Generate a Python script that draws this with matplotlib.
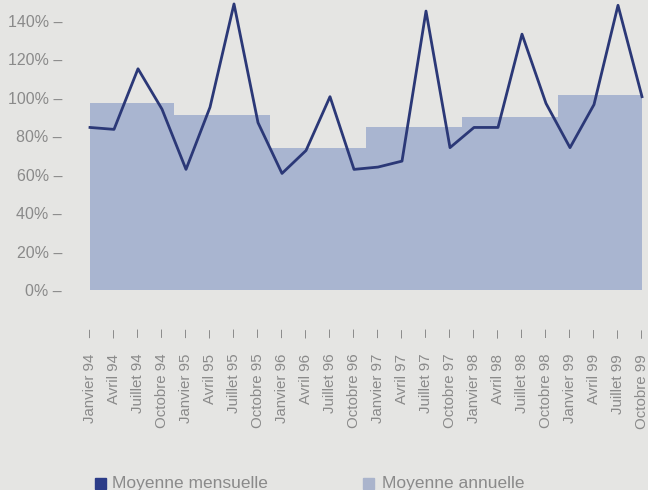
import numpy as np
import matplotlib.pyplot as plt
from matplotlib.patches import Rectangle

plt.rcParams['font.family'] = ['Liberation Sans', 'DejaVu Sans']

# Quarterly labels and values (%)
labels = ['Janvier 94', 'Avril 94', 'Juillet 94', 'Octobre 94',
          'Janvier 95', 'Avril 95', 'Juillet 95', 'Octobre 95',
          'Janvier 96', 'Avril 96', 'Juillet 96', 'Octobre 96',
          'Janvier 97', 'Avril 97', 'Juillet 97', 'Octobre 97',
          'Janvier 98', 'Avril 98', 'Juillet 98', 'Octobre 98',
          'Janvier 99', 'Avril 99', 'Juillet 99', 'Octobre 99']
mensuelle = [84.5, 83.5, 115, 94, 62.7, 95, 148.7, 87,
             60.6, 72.5, 100.5, 62.7, 63.9, 67, 145, 74,
             84.5, 84.5, 133, 97, 74, 96.4, 148, 100.5]
annees = ['94', '95', '96', '97', '98', '99']
annuelle = [97.4, 91, 73.6, 84.5, 90, 101.5]

bg = '#e5e5e3'
fill_col = '#a9b5d0'
line_col = '#2b3877'
text_col = '#8a8a8a'

fig = plt.figure(figsize=(6.48, 4.90), dpi=100, facecolor=bg)
ax = fig.add_axes([90 / 648, 1 - 290 / 490, 552 / 648, 290 / 490 - 0.001])
ax.set_facecolor(bg)

x = np.arange(len(labels))

# yearly steps: each year covers its 4 quarters, edges halfway between quarters
edges = [0, 3.5, 7.5, 11.5, 15.5, 19.5, 23]
sx, sy = [], []
for i, v in enumerate(annuelle):
    sx += [edges[i], edges[i + 1]]
    sy += [v, v]
ax.fill_between(sx, 0, sy, color=fill_col, linewidth=0, clip_on=False)

ax.plot(x, mensuelle, color=line_col, linewidth=2, clip_on=False)

ax.set_xlim(0, 23)
ax.set_ylim(0, 150.5)
for s in ax.spines.values():
    s.set_visible(False)

ax.set_yticks(range(0, 141, 20))
ax.set_yticklabels([f'{v}% –' for v in range(0, 141, 20)], color=text_col, fontsize=11.5)
ax.set_xticks(x)
ax.set_xticklabels([l + '    –' for l in labels], rotation=90, color=text_col,
                   fontsize=10.8, va='top', ha='center')
ax.tick_params(axis='y', length=0, pad=20)
ax.tick_params(axis='x', length=0, pad=28)

# Legend
fig.patches.append(Rectangle((95 / 648, 1 - 489 / 490), 11 / 648, 11 / 490,
                             transform=fig.transFigure, color='#2c3c88'))
fig.text(112 / 648, 1 - 483 / 490, 'Moyenne mensuelle', color=text_col,
         fontsize=12.5, va='center')
fig.patches.append(Rectangle((363 / 648, 1 - 489 / 490), 11 / 648, 11 / 490,
                             transform=fig.transFigure, color='#aab4cc'))
fig.text(382 / 648, 1 - 483 / 490, 'Moyenne annuelle', color=text_col,
         fontsize=12.5, va='center')

fig.savefig('out.png', dpi=100, facecolor=bg)
